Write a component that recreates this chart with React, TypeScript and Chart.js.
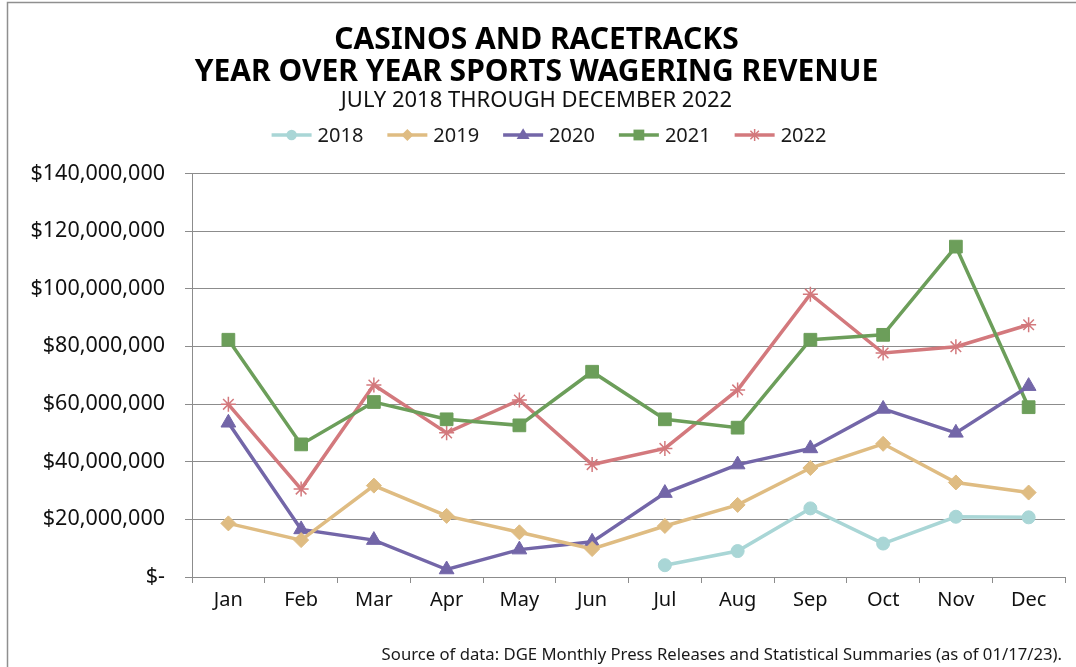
import React, { useEffect, useRef } from "react";
import { Chart, registerables } from "chart.js";

Chart.register(...registerables);

const months = ["Jan", "Feb", "Mar", "Apr", "May", "Jun", "Jul", "Aug", "Sep", "Oct", "Nov", "Dec"];

const rev2018 = [null, null, null, null, null, null, 4100000, 9000000, 23800000, 11600000, 20900000, 20700000];
const rev2019 = [18600000, 12800000, 31700000, 21200000, 15500000, 9700000, 17700000, 25000000, 37800000, 46200000, 32800000, 29300000];
const rev2020 = [53500000, 16500000, 12800000, 2600000, 9500000, 12200000, 29100000, 39000000, 44600000, 58300000, 50000000, 66200000];
const rev2021 = [82300000, 46000000, 60700000, 54700000, 52600000, 71200000, 54700000, 51800000, 82300000, 84000000, 114600000, 58900000];
const rev2022 = [59900000, 30500000, 66600000, 50000000, 61400000, 39000000, 44600000, 64900000, 98100000, 77700000, 79900000, 87500000];

const seriesLabels = ["2018", "2019", "2020", "2021", "2022"];
const titleLines = ["CASINOS AND RACETRACKS", "YEAR OVER YEAR SPORTS WAGERING REVENUE"];
const subtitleText = "JULY 2018 THROUGH DECEMBER 2022";
const sourceText = "Source of data: DGE Monthly Press Releases and Statistical Summaries (as of 01/17/23).";

const COLORS = ["#a9d6d6", "#dfbc82", "#7366a8", "#6c9e5a", "#d3797d"];
const STYLES = ["circle", "rectRot", "triangle", "rect", "star"];
const RADII = [6.5, 7.5, 8.5, 9, 7.5];

const FONT = "'Noto Sans', 'Open Sans', sans-serif";

function drawMarker(ctx: CanvasRenderingContext2D, style: string, x: number, y: number, r: number, color: string) {
  ctx.save();
  ctx.fillStyle = color;
  ctx.strokeStyle = color;
  ctx.lineWidth = 1.5;
  ctx.beginPath();
  if (style === "circle") {
    ctx.arc(x, y, r, 0, Math.PI * 2);
    ctx.fill();
  } else if (style === "rectRot") {
    ctx.moveTo(x, y - r);
    ctx.lineTo(x + r, y);
    ctx.lineTo(x, y + r);
    ctx.lineTo(x - r, y);
    ctx.closePath();
    ctx.fill();
  } else if (style === "triangle") {
    ctx.moveTo(x, y - r);
    ctx.lineTo(x + r * 0.95, y + r * 0.6);
    ctx.lineTo(x - r * 0.95, y + r * 0.6);
    ctx.closePath();
    ctx.fill();
  } else if (style === "rect") {
    const s = r * 0.75;
    ctx.rect(x - s, y - s, 2 * s, 2 * s);
    ctx.fill();
  } else {
    for (let i = 0; i < 4; i++) {
      const a = (i * Math.PI) / 4;
      ctx.moveTo(x - Math.cos(a) * r, y - Math.sin(a) * r);
      ctx.lineTo(x + Math.cos(a) * r, y + Math.sin(a) * r);
    }
    ctx.stroke();
  }
  ctx.restore();
}

const decorPlugin = {
  id: "decor",
  beforeDraw(chart: any) {
    const ctx = chart.ctx as CanvasRenderingContext2D;
    ctx.save();
    ctx.fillStyle = "#ffffff";
    ctx.fillRect(0, 0, chart.width, chart.height);
    ctx.strokeStyle = "#8f8f8f";
    ctx.lineWidth = 1.5;
    ctx.beginPath();
    ctx.moveTo(7.5, chart.height);
    ctx.lineTo(7.5, 2.5);
    ctx.lineTo(chart.width, 2.5);
    ctx.stroke();
    ctx.restore();
  },
  afterDraw(chart: any) {
    const ctx = chart.ctx as CanvasRenderingContext2D;
    ctx.save();
    // legend
    ctx.font = `20px ${FONT}`;
    ctx.textBaseline = "middle";
    ctx.textAlign = "left";
    const lineLen = 40;
    const gap = 6;
    const spacing = 24;
    const widths = seriesLabels.map((l) => ctx.measureText(l).width);
    const total = widths.reduce((a, w) => a + lineLen + gap + w, 0) + spacing * (seriesLabels.length - 1);
    let x = 549 - total / 2;
    const y = 135;
    seriesLabels.forEach((label, i) => {
      ctx.strokeStyle = COLORS[i];
      ctx.lineWidth = 3.5;
      ctx.beginPath();
      ctx.moveTo(x, y);
      ctx.lineTo(x + lineLen, y);
      ctx.stroke();
      drawMarker(ctx, STYLES[i], x + lineLen / 2, y, RADII[i] * 0.8, COLORS[i]);
      ctx.fillStyle = "#1a1a1a";
      ctx.fillText(label, x + lineLen + gap, y + 1);
      x += lineLen + gap + widths[i] + spacing;
    });
    // source
    ctx.font = `16.7px ${FONT}`;
    ctx.textAlign = "right";
    ctx.fillStyle = "#1a1a1a";
    ctx.fillText(sourceText, 1062, 655);
    ctx.restore();
  },
};

export default function App() {
  const canvasRef = useRef<HTMLCanvasElement | null>(null);

  useEffect(() => {
    document.body.style.margin = "0";
    const canvas = canvasRef.current;
    if (!canvas) return;
    const allData = [rev2018, rev2019, rev2020, rev2021, rev2022];
    const chart = new Chart(canvas, {
      type: "line",
      data: {
        labels: months,
        datasets: allData.map((d, i) => ({
          label: seriesLabels[i],
          data: d,
          borderColor: COLORS[i],
          backgroundColor: COLORS[i],
          borderWidth: 3.5,
          pointStyle: STYLES[i] as any,
          pointRadius: RADII[i],
          pointBorderWidth: i === 4 ? 1.5 : 1,
          pointBackgroundColor: COLORS[i],
          pointBorderColor: COLORS[i],
          tension: 0,
          fill: false,
        })),
      },
      options: {
        animation: false,
        responsive: true,
        maintainAspectRatio: false,
        layout: { padding: { left: 8, right: 11, top: 0, bottom: 50 } },
        plugins: {
          legend: { display: false },
          tooltip: { enabled: false },
          title: {
            display: true,
            text: titleLines,
            color: "#000000",
            font: { family: FONT, size: 30, weight: "bold", lineHeight: 1.07 },
            padding: { top: 24, bottom: 0 },
          },
          subtitle: {
            display: true,
            text: subtitleText,
            color: "#111111",
            font: { family: FONT, size: 22, lineHeight: 1.1 },
            padding: { top: 0, bottom: 61 },
          },
        },
        scales: {
          x: {
            offset: true,
            grid: {
              display: true,
              offset: true,
              drawOnChartArea: false,
              drawTicks: true,
              tickLength: 6,
              color: "#8c8c8c",
            },
            border: { display: true, color: "#8c8c8c", width: 1 },
            ticks: {
              color: "#111111",
              font: { family: FONT, size: 20 },
              padding: 5,
              maxRotation: 0,
            },
          },
          y: {
            min: 0,
            max: 140000000,
            afterFit(scale: any) {
              scale.width = 184;
            },
            grid: {
              color: "#8c8c8c",
              lineWidth: 1,
              tickLength: 7,
              drawTicks: true,
            },
            border: { display: true, color: "#8c8c8c", width: 1 },
            ticks: {
              stepSize: 20000000,
              color: "#111111",
              font: { family: FONT, size: 21.5 },
              padding: 20,
              callback: (v: any) => (Number(v) === 0 ? "$-" : "$" + Number(v).toLocaleString("en-US")),
            },
          },
        },
      },
      plugins: [decorPlugin],
    });
    return () => chart.destroy();
  }, []);

  return (
    <div style={{ width: 1076, height: 667, position: "relative" }}>
      <canvas ref={canvasRef} />
    </div>
  );
}
